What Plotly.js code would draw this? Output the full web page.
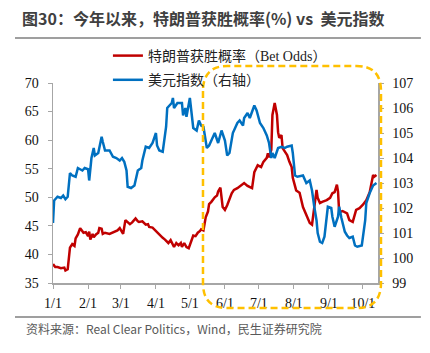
<!DOCTYPE html>
<html>
<head>
<meta charset="utf-8">
<script src="https://cdn.plot.ly/plotly-3.0.1.min.js"></script>
<style>
html,body{margin:0;padding:0;background:#fff;}
#chart{width:430px;height:353px;}
</style>
</head>
<body>
<div id="chart"></div>
<script>
// ---- data ----
const year = '2024-';
const tickDates = ['01-01','02-01','03-01','04-01','05-01','06-01','07-01','08-01','09-01','10-01'];
const tickLabels = ['1/1','2/1','3/1','4/1','5/1','6/1','7/1','8/1','9/1','10/1'];

const trumpDates = ['01-01','01-03','01-05','01-08','01-11','01-12','01-14','01-16','01-18','01-20','01-21','01-23','01-25','01-27','01-28','01-30',
'02-01','02-02','02-03','02-05','02-06','02-08','02-10','02-11','02-13','02-14','02-16','02-20','02-23','02-27','02-29',
'03-02','03-03','03-05','03-07','03-09','03-11','03-14','03-16','03-17','03-20','03-23','03-25','03-26','03-29',
'04-01','04-03','04-05','04-07','04-09','04-12','04-14','04-16','04-17','04-19','04-21','04-23','04-24','04-26','04-28','04-30',
'05-02','05-04','05-06','05-08','05-10','05-11','05-13','05-15','05-17','05-18','05-20','05-23','05-25','05-26','05-28','05-30',
'06-01','06-03','06-07','06-09','06-12','06-16','06-18','06-21','06-25','06-27','06-30',
'07-03','07-05','07-08','07-09','07-10','07-12','07-13','07-15','07-17','07-18','07-19','07-21','07-22','07-26','07-28','07-30','07-31',
'08-02','08-03','08-06','08-09','08-12','08-15','08-17','08-19','08-21','08-22','08-24','08-26','08-30',
'09-02','09-04','09-06','09-08','09-09','09-10','09-13','09-17','09-19','09-22','09-25','09-28',
'10-01','10-04','10-07','10-09','10-10','10-11','10-13'];
const trumpOdds = [38.3,37.8,37.8,37.6,37.7,37.2,37.4,41.2,41.8,41.5,42.8,43.5,44.6,44.0,43.8,43.9,
43.2,44.0,42.6,43.6,43.0,43.5,43.8,44.6,44.5,43.6,43.8,43.6,43.9,44.2,44.6,
44.0,43.6,46.0,45.6,45.3,45.6,46.3,45.8,45.7,45.8,45.2,45.3,44.8,44.7,
44.1,43.6,43.3,42.9,42.6,42.0,42.5,41.6,41.3,42.0,41.6,42.0,41.3,42.0,41.3,41.1,
42.3,43.3,43.2,43.8,44.1,44.4,44.2,46.5,47.5,48.8,49.2,50.0,50.3,51.0,51.7,48.3,
47.8,48.6,50.7,51.3,51.6,52.2,52.5,52.0,51.6,54.4,55.6,
55.3,56.2,56.9,57.7,57.0,58.3,64.4,66.5,64.4,61.4,60.4,60.9,58.6,57.4,56.2,55.3,53.4,
52.2,51.2,50.8,48.3,46.9,45.5,45.2,48.3,51.3,49.9,49.0,49.2,49.5,
49.9,50.7,50.9,52.2,51.0,47.4,47.6,47.2,46.0,45.7,47.8,48.1,
48.7,49.5,50.9,52.7,53.9,53.6,53.9];

const dxyDates = ['01-01','01-02','01-05','01-08','01-10','01-12','01-14','01-16','01-18','01-21','01-23','01-27','01-29',
'02-01','02-02','02-04','02-06','02-07','02-10','02-13','02-14','02-16','02-20','02-23','02-26','02-29',
'03-02','03-04','03-06','03-07','03-10','03-13','03-16','03-19','03-20','03-23','03-26','03-29',
'04-01','04-02','04-04','04-07','04-10','04-11','04-15','04-16','04-17','04-20','04-24','04-25','04-27','04-28',
'05-01','05-03','05-04','05-07','05-09','05-11','05-13','05-16','05-18','05-21','05-23','05-26','05-29',
'06-01','06-03','06-05','06-08','06-10','06-12','06-14','06-17','06-18','06-21','06-23','06-25','06-27','06-29','06-30',
'07-02','07-05','07-08','07-10','07-12','07-13','07-15','07-18','07-21','07-24','07-26','07-30','07-31',
'08-02','08-04','08-09','08-12','08-15','08-17','08-19','08-21','08-22','08-24','08-26','08-28','08-31',
'09-03','09-04','09-06','09-09','09-10','09-12','09-15','09-17','09-19','09-22','09-24','09-26','09-30',
'10-03','10-04','10-07','10-10','10-13'];
const dxyValues = [101.4,102.3,102.45,102.4,102.5,102.35,102.45,103.4,103.3,103.25,103.6,103.5,103.6,
103.55,103.1,104.0,104.4,104.1,104.2,104.85,104.65,104.3,104.3,104.05,104.0,103.9,
104.0,103.85,103.5,102.85,102.8,102.9,103.5,103.6,103.9,104.45,104.4,104.6,
105.0,104.5,104.3,104.25,105.25,106.0,106.2,106.4,106.0,106.2,106.2,105.7,106.0,105.65,
106.4,105.65,105.2,105.1,105.5,105.3,105.25,104.4,104.5,104.8,105.0,104.6,105.1,
104.7,104.1,104.2,105.0,105.2,105.4,105.5,105.3,105.6,105.8,105.6,105.9,106.1,105.9,105.7,
105.4,105.2,104.9,104.6,104.0,104.2,104.0,104.4,104.45,104.4,104.45,104.5,104.2,
103.3,103.25,103.3,103.0,103.1,102.7,102.05,101.5,101.0,100.65,100.6,100.85,102.05,
102.0,101.65,101.25,101.65,102.05,101.6,101.05,100.9,100.8,100.85,100.5,100.45,100.5,
101.5,102.2,102.6,102.9,103.0];

// ---- chart ----
const serif = 'Liberation Serif, Times New Roman, Noto Sans CJK SC, serif';
const cjk = 'Noto Sans CJK SC, sans-serif';

const traces = [
  {x: trumpDates.map(d => year + d), y: trumpOdds, type: 'scatter', mode: 'lines',
   name: '特朗普获胜概率（Bet Odds）', legendgroup: 'a',
   line: {color: '#C00000', width: 2.5}},
  {x: dxyDates.map(d => year + d), y: dxyValues, type: 'scatter', mode: 'lines',
   name: '美元指数（右轴）', legendgroup: 'b', yaxis: 'y2',
   line: {color: '#0070C0', width: 2.5}}
];

// rounded dashed highlight box (paper coords)
const bx0 = 0.4615, bx1 = 1.0092, by0 = -0.125, by1 = 1.085, rx = 0.075, ry = 0.125;
const boxPath = `M ${bx0},${by1-ry} L ${bx0},${by0+ry} Q ${bx0},${by0} ${bx0+rx},${by0} L ${bx1-rx},${by0} Q ${bx1},${by0} ${bx1},${by0+ry} L ${bx1},${by1-ry} Q ${bx1},${by1} ${bx1-rx},${by1} L ${bx0+rx},${by1} Q ${bx0},${by1} ${bx0},${by1-ry} Z`;

const layout = {
  width: 430, height: 353,
  margin: {l: 53, r: 52, t: 83, b: 70},
  paper_bgcolor: '#fff', plot_bgcolor: '#fff',
  showlegend: true,
  title: {text: '<b>图30：今年以来，特朗普获胜概率(%) vs  美元指数</b>',
    x: 22/430, xanchor: 'left', xref: 'container', y: 1 - 19/353, yanchor: 'middle', yref: 'container',
    font: {family: cjk, size: 16, color: '#404040'}},
  legend: {x: 0.169, xanchor: 'left', y: 1.215, yanchor: 'top', bgcolor: 'rgba(0,0,0,0)',
    font: {family: serif, size: 14, color: '#222'}, tracegroupgap: 3, traceorder: 'grouped'},
  xaxis: {type: 'date', range: ['2024-01-01', '2024-10-14 08:00'],
    tickmode: 'array', tickvals: tickDates.map(d => year + d), ticktext: tickLabels,
    showgrid: false, zeroline: false, showline: true, linecolor: '#A6A6A6', linewidth: 1.5,
    ticks: 'outside', ticklen: 4, tickcolor: '#A6A6A6', ticklabelstandoff: 3,
    tickfont: {family: serif, size: 14, color: '#111'}},
  yaxis: {range: [35, 70], dtick: 5, showgrid: false, zeroline: false, showline: true,
    linecolor: '#A6A6A6', linewidth: 1.5, ticks: 'outside', ticklen: 4, tickcolor: '#A6A6A6',
    ticklabelstandoff: 6, tickfont: {family: serif, size: 14, color: '#111'}},
  yaxis2: {range: [99, 107], dtick: 1, overlaying: 'y', side: 'right', showgrid: false, zeroline: false,
    showline: true, linecolor: '#A6A6A6', linewidth: 1.5, ticks: 'outside', ticklen: 4, tickcolor: '#A6A6A6',
    ticklabelstandoff: 6, tickfont: {family: serif, size: 14, color: '#111'}},
  shapes: [
    {type: 'line', xref: 'paper', yref: 'paper', x0: -0.117, x1: 1.132, y0: 1.225, y1: 1.225,
     line: {color: '#7F7F7F', width: 1.5}},
    {type: 'line', xref: 'paper', yref: 'paper', x0: -0.117, x1: 1.132, y0: -0.17, y1: -0.17,
     line: {color: '#7F7F7F', width: 1.5}},
    {type: 'path', xref: 'paper', yref: 'paper', path: boxPath,
     line: {color: '#FFC000', width: 2.5, dash: '7px,4px'}, fillcolor: 'rgba(0,0,0,0)'}
  ],
  annotations: [
    {text: '资料来源：Real Clear Politics，Wind，民生证券研究院', xref: 'paper', yref: 'paper',
     x: -0.0892, y: -0.225, xanchor: 'left', yanchor: 'middle', showarrow: false,
     font: {family: cjk, size: 12, color: '#595959'}}
  ]
};

Plotly.newPlot('chart', traces, layout, {staticPlot: true, displayModeBar: false});
</script>
</body>
</html>
